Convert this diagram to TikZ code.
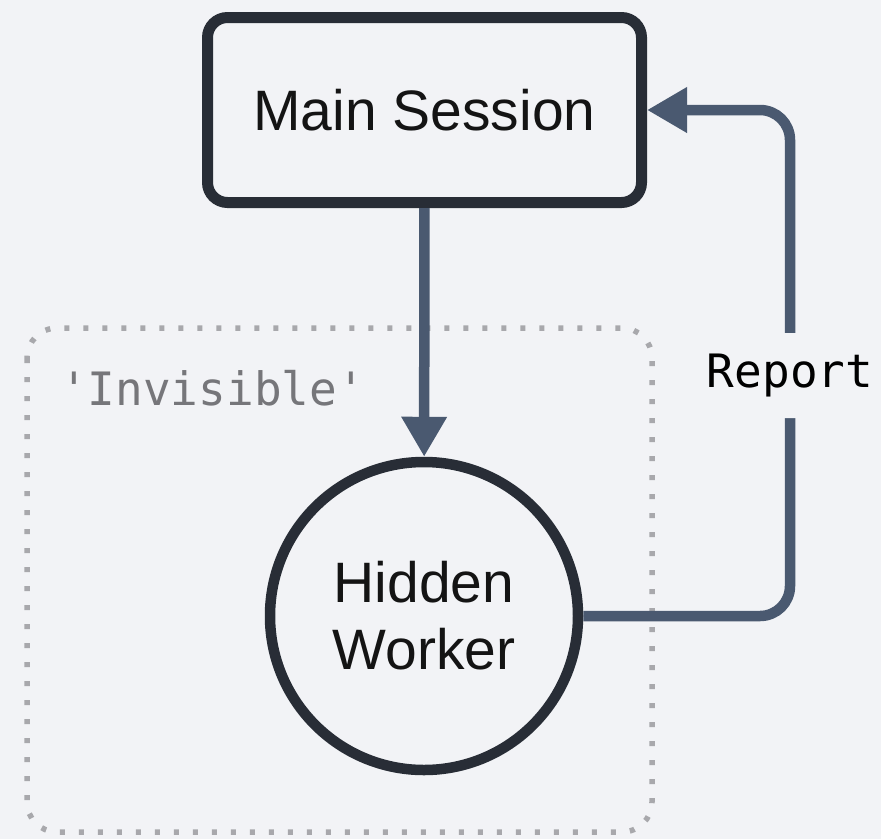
\documentclass[tikz,border=0pt]{standalone}
\usepackage{fontspec}
\setmainfont{Liberation Sans}
\setmonofont{DejaVu Sans Mono}
\usetikzlibrary{arrows.meta,positioning}
\definecolor{pagebg}{RGB}{242,243,246}
\definecolor{nodeink}{RGB}{40,45,54}
\definecolor{flowcol}{RGB}{74,89,112}
\definecolor{zonegrey}{RGB}{168,168,172}
\definecolor{labelgrey}{RGB}{118,118,122}
\tikzset{
  sessionbox/.style={rectangle,rounded corners=20pt,draw=nodeink,line width=11pt,
    fill=pagebg,minimum width=434pt,minimum height=185pt,inner sep=0pt,
    text=black!92,font=\fontsize{57}{66}\selectfont},
  workercirc/.style={circle,draw=nodeink,line width=10.5pt,fill=pagebg,
    minimum size=308pt,inner sep=0pt,align=center,text=black!92,
    font=\fontsize{57}{67}\selectfont},
  zone/.style={draw=zonegrey,line width=5.5pt,dash pattern=on 5pt off 14pt,
    rounded corners=30pt},
  flow/.style={-{Triangle[length=40pt,width=43pt]},draw=flowcol,line width=10.5pt},
  monolabel/.style={font=\ttfamily\fontsize{46}{50}\selectfont,inner sep=0pt},
}
\begin{document}
\begin{tikzpicture}[x=1pt,y=-1pt]
  \useasboundingbox (0,0) rectangle (881,839);
  \fill[pagebg] (0,0) rectangle (881,839);
  % dotted zone round the worker
  \draw[zone] (27,328) rectangle (652,832);
  \node[monolabel,text=labelgrey,anchor=west] (invlabel) at (60,388) {'Invisible'};
  \node[sessionbox] (ms) at (424.5,110) {Main Session};
  \node[workercirc] (hw) at (424,616) {Hidden\\Worker};
  \coordinate (rpt) at (790,0);
  \draw[flow] (ms) -- (hw);
  \draw[flow,rounded corners=30pt] (hw.east) -- (hw.east -| rpt)
    -- node[monolabel,fill=pagebg,minimum height=85pt,pos=0.475] (rlabel) {Report}
    (ms.east -| rpt) -- (ms.east);
\end{tikzpicture}
\end{document}
